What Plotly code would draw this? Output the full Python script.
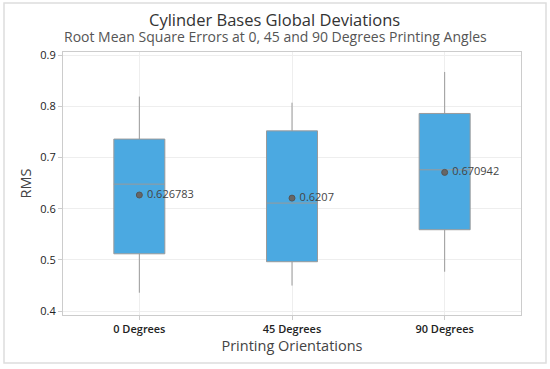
import plotly.graph_objects as go

categories = ["0 Degrees", "45 Degrees", "90 Degrees"]
q1 = [0.512, 0.4965, 0.559]
median = [0.648, 0.611, 0.676]
q3 = [0.736, 0.752, 0.786]
lower = [0.436, 0.450, 0.477]
upper = [0.819, 0.807, 0.867]
means = [0.626783, 0.6207, 0.670942]
mean_labels = ["0.626783", "0.6207", "0.670942"]

W, H = 550, 369
ml, mr, mt, mb = 63, 29, 52, 54
pw, ph = W - ml - mr, H - mt - mb


def px_x(p):
    return (p - ml) / pw


def px_y(p):
    return (H - mb - p) / ph


fig = go.Figure()
fig.add_trace(go.Box(
    x=categories, q1=q1, median=median, q3=q3,
    lowerfence=lower, upperfence=upper,
    fillcolor="#4BA9E1", line=dict(color="#9a9a9a", width=1),
    width=0.334, whiskerwidth=0, boxpoints=False, hoverinfo="skip",
    showlegend=False,
))
fig.add_trace(go.Scatter(
    x=categories, y=means, mode="markers+text",
    text=[" " + t for t in mean_labels], textposition="middle right",
    textfont=dict(family="Open Sans", size=11, color="#444"),
    marker=dict(symbol="circle", size=6, color="#666666",
                line=dict(color="#555", width=1)),
    showlegend=False, hoverinfo="skip", cliponaxis=False,
))

fig.update_layout(
    width=W, height=H,
    margin=dict(l=ml, r=mr, t=mt, b=mb),
    paper_bgcolor="white", plot_bgcolor="white",
    font=dict(family="Open Sans", color="#333"),
    showlegend=False,
    annotations=[
        dict(text="Cylinder Bases Global Deviations", xref="paper", yref="paper",
             x=px_x(274), y=px_y(19.5), xanchor="center", yanchor="middle",
             showarrow=False, font=dict(size=16.5, color="#333", family="Open Sans")),
        dict(text="Root Mean Square Errors at 0, 45 and 90 Degrees Printing Angles",
             xref="paper", yref="paper",
             x=px_x(275), y=px_y(36.5), xanchor="center", yanchor="middle",
             showarrow=False, font=dict(size=14, color="#555", family="Open Sans")),
    ],
    shapes=[
        dict(type="rect", xref="paper", yref="paper",
             x0=px_x(4), x1=px_x(546),
             y0=px_y(363), y1=px_y(3),
             line=dict(color="#dddddd", width=1.5), layer="below"),
    ],
)
fig.update_xaxes(
    range=[-0.5, 2.5], showgrid=True, gridcolor="#eeeeee",
    showline=True, linecolor="#cccccc", mirror=True,
    ticks="outside", ticklen=4, tickcolor="#cccccc",
    tickfont=dict(size=11, color="#222", family="Open Sans SemiBold, Open Sans"),
    title=dict(text="Printing Orientations", font=dict(size=14.5, color="#444"), standoff=4),
)
fig.update_yaxes(
    range=[0.3925, 0.906], dtick=0.1, tickformat=".1f",
    showgrid=True, gridcolor="#eeeeee", zeroline=False,
    showline=True, linecolor="#cccccc", mirror=True,
    ticks="outside", ticklen=4, tickcolor="#cccccc",
    tickfont=dict(size=11, color="#222", family="Open Sans"),
    title=dict(text="RMS", font=dict(size=14.5, color="#444"), standoff=5),
)

fig.write_html("out.html", config={"displayModeBar": False},
               post_script="document.body.style.margin='0px';")
